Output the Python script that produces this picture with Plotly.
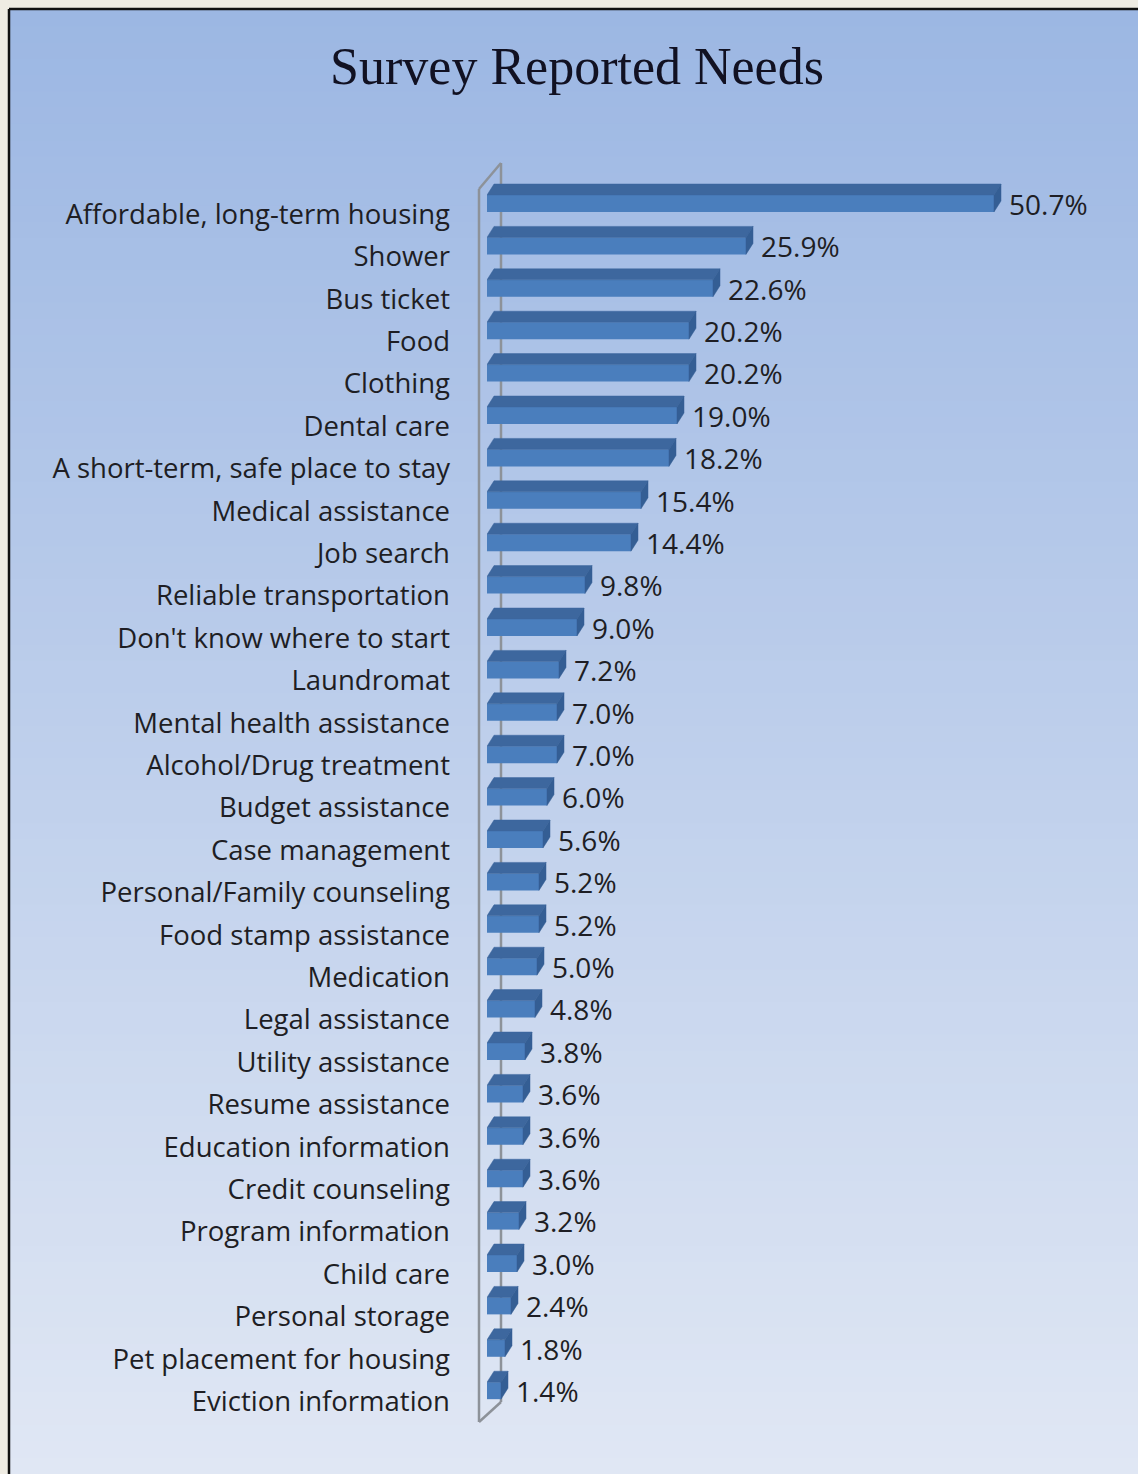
import plotly.graph_objects as go

# ---------------- data ----------------
categories = [
    "Affordable, long-term housing", "Shower", "Bus ticket", "Food", "Clothing",
    "Dental care", "A short-term, safe place to stay", "Medical assistance",
    "Job search", "Reliable transportation", "Don't know where to start",
    "Laundromat", "Mental health assistance", "Alcohol/Drug treatment",
    "Budget assistance", "Case management", "Personal/Family counseling",
    "Food stamp assistance", "Medication", "Legal assistance",
    "Utility assistance", "Resume assistance", "Education information",
    "Credit counseling", "Program information", "Child care",
    "Personal storage", "Pet placement for housing", "Eviction information",
]
values = [50.7, 25.9, 22.6, 20.2, 20.2, 19.0, 18.2, 15.4, 14.4, 9.8, 9.0, 7.2,
          7.0, 7.0, 6.0, 5.6, 5.2, 5.2, 5.0, 4.8, 3.8, 3.6, 3.6, 3.6, 3.2, 3.0,
          2.4, 1.8, 1.4]
labels = [f"{v:.1f}%" for v in values]
title_text = "Survey Reported Needs"

# ---------------- geometry ----------------
W, H = 1138, 1474
ML, MR, MT, MB = 487, 0, 150, 40
PW, PH = W - ML - MR, H - MT - MB
PX_PER_UNIT = 10.0
XMAX = PW / PX_PER_UNIT
ROW = 42.4
Y0 = -(203.5 - MT) / ROW
Y1 = Y0 + PH / ROW

def pxx(px):
    return (px - ML) / PW

def pxy(py):
    return 1 - (py - MT) / PH

idx = list(range(len(categories)))
HALF = 0.2                 # half thickness of front face (category units)
DX = 7 / PX_PER_UNIT       # depth offset in x (value units)
DY = 11 / ROW              # depth offset in y (category units)

FRONT = "#4a7ebd"
TOP = "#3d679e"
SIDE = "#345e94"
TXT = "#1e1e24"
FONT = "Open Sans"

# ---------------- background gradient ----------------
shapes = []
top_c = (156, 183, 227)
bot_c = (224, 231, 244)
N = 90
y_start, y_end = 10, H
for k in range(N):
    t = k / (N - 1)
    c = tuple(int(round(top_c[j] + (bot_c[j] - top_c[j]) * t)) for j in range(3))
    ya = y_start + (y_end - y_start) * k / N
    yb = y_start + (y_end - y_start) * (k + 1) / N + 1
    shapes.append(dict(type="rect", xref="paper", yref="paper",
                       x0=pxx(10), x1=pxx(W + 5), y0=pxy(yb), y1=pxy(ya),
                       fillcolor="rgb(%d,%d,%d)" % c, line=dict(width=0),
                       layer="below"))
# black frame (left / top)
shapes.append(dict(type="line", xref="paper", yref="paper",
                   x0=pxx(9), x1=pxx(9), y0=pxy(9), y1=pxy(H + 5),
                   line=dict(color="#111111", width=2.5), layer="below"))
shapes.append(dict(type="line", xref="paper", yref="paper",
                   x0=pxx(9), x1=pxx(W + 5), y0=pxy(9), y1=pxy(9),
                   line=dict(color="#111111", width=2.5), layer="below"))
# 3D axis wall
wall = dict(color="#8d9299", width=2.5)
for (xa, ya, xb, yb) in [(479, 189, 479, 1422), (501, 163, 501, 1402),
                         (479, 189, 501, 163), (479, 1422, 501, 1402)]:
    shapes.append(dict(type="line", xref="paper", yref="paper",
                       x0=pxx(xa), x1=pxx(xb), y0=pxy(ya), y1=pxy(yb),
                       line=wall, layer="below"))

# ---------------- 3D faces ----------------
top_x, top_y, side_x, side_y = [], [], [], []
for i, v in zip(idx, values):
    yt = i - HALF
    yb = i + HALF
    top_x += [0, v, v + DX, DX, 0, None]
    top_y += [yt, yt, yt - DY, yt - DY, yt, None]
    side_x += [v, v + DX, v + DX, v, v, None]
    side_y += [yt, yt - DY, yb - DY, yb, yt, None]

fig = go.Figure()
fig.add_trace(go.Bar(orientation="h", x=values, y=idx, base=0, width=2 * HALF,
                     marker=dict(color=FRONT, line=dict(width=0)),
                     hoverinfo="skip", showlegend=False))
fig.add_trace(go.Scatter(x=top_x, y=top_y, mode="lines", fill="toself",
                         fillcolor=TOP, line=dict(width=0.5, color=TOP),
                         hoverinfo="skip", showlegend=False))
fig.add_trace(go.Scatter(x=side_x, y=side_y, mode="lines", fill="toself",
                         fillcolor=SIDE, line=dict(width=0.5, color=SIDE),
                         hoverinfo="skip", showlegend=False))
fig.add_trace(go.Scatter(x=[v + 1.5 for v in values], y=[i + 0.1 for i in idx],
                         mode="text", text=labels, textposition="middle right",
                         textfont=dict(family=FONT, size=28, color=TXT),
                         cliponaxis=False, hoverinfo="skip", showlegend=False))

fig.update_layout(
    width=W, height=H,
    margin=dict(l=ML, r=MR, t=MT, b=MB, pad=0),
    paper_bgcolor="#efece3",
    plot_bgcolor="rgba(0,0,0,0)",
    shapes=shapes,
    title=dict(text=title_text, x=577 / W, xanchor="center",
               y=1 - 66 / H, yanchor="middle",
               font=dict(family="Liberation Serif", size=52, color="#111122")),
    xaxis=dict(range=[0, XMAX], showgrid=False, zeroline=False,
               showticklabels=False, showline=False, ticks=""),
    yaxis=dict(range=[Y1, Y0], showgrid=False, zeroline=False, showline=False,
               tickmode="array", tickvals=[i + 0.25 for i in idx],
               ticktext=categories, ticks="", ticklabelstandoff=36,
               tickfont=dict(family=FONT, size=27.5, color=TXT)),
)

fig.write_html("out.html", config={"displayModeBar": False},
               post_script="document.body.style.margin='0';"
                           "document.body.style.overflow='hidden';")
